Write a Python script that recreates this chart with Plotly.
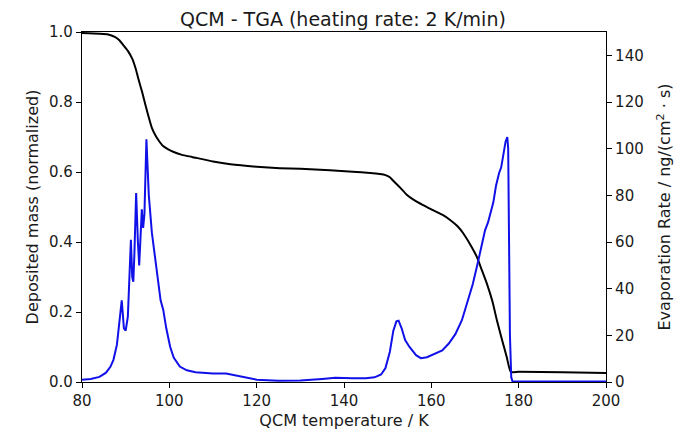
import plotly.graph_objects as go

# Evaporation rate (right axis), ng/(cm^2 s)
rate_T = [80.0, 82.0, 84.0, 85.5, 86.5, 87.2, 88.0, 88.5, 89.1, 89.6, 90.0, 90.5, 90.9, 91.2, 91.5,
          91.75, 92.0, 92.4, 92.8, 93.1, 93.4, 93.7, 94.0, 94.3, 94.75, 95.3, 96.0, 96.8, 97.5,
          98.0, 98.6, 99.3, 100.2, 101.0, 102.4, 104.0, 106.0, 110.0, 113.0, 116.0, 120.0,
          125.0, 130.0, 135.0, 138.0, 142.0, 145.0, 147.0, 148.5, 149.5, 150.5, 151.3, 152.0,
          152.5, 153.2, 154.0, 155.0, 156.5, 157.6, 159.0, 161.0, 162.5, 164.0, 165.5, 167.0,
          168.2, 169.5, 170.75, 171.5, 172.3, 173.0, 173.6, 174.2, 174.8, 175.5, 176.0, 176.5,
          177.0, 177.4, 177.6, 177.8, 178.0, 178.3, 178.6, 180.0, 200.0]
rate_val = [1.0, 1.3, 2.2, 4.0, 6.5, 9.5, 16, 24, 35, 23, 22, 28, 45, 61, 45,
            43, 55, 81, 60, 50, 62, 74, 66, 72, 104, 80, 64, 52, 40,
            35, 31, 23, 15, 10.5, 6.6, 5.0, 4.2, 3.6, 3.6, 2.5, 1.0,
            0.5, 0.6, 1.3, 1.8, 1.6, 1.6, 2.0, 3.2, 6, 13, 22, 26,
            26.3, 23, 18, 15, 11.5, 10.2, 10.6, 12.2, 13.5, 16.5, 20.5, 26.5,
            33.7, 42, 52, 58, 65, 68.5, 73, 77, 84, 89.5, 92, 98,
            103, 105, 100, 60, 20, 2, 0.2, 0.2, 0.2]

# Deposited mass (left axis), normalized
mass_T = [80.0, 84.0, 86.0, 87.5, 88.5, 89.5, 90.5, 91.5, 92.3, 93.0, 93.74, 94.5, 95.2, 96.0,
          96.8, 97.56, 98.5, 99.85, 101.0, 102.9, 105.2, 110.0, 114.0, 120.0, 125.3, 130.0,
          136.8, 142.0, 146.0, 148.2, 149.5, 150.5, 151.5, 152.8, 154.3, 155.9, 158.0, 160.4,
          162.5, 164.3, 166.0, 167.3, 168.8, 170.4, 171.5, 172.7, 174.0, 175.0, 176.2, 177.25,
          178.2, 180.0, 190.0, 200.0]
mass_val = [0.997, 0.995, 0.993, 0.986, 0.977, 0.962, 0.946, 0.924, 0.895, 0.862, 0.830, 0.793, 0.760, 0.726,
            0.705, 0.690, 0.675, 0.664, 0.657, 0.649, 0.643, 0.630, 0.622, 0.615, 0.611, 0.609,
            0.605, 0.601, 0.597, 0.594, 0.591, 0.585, 0.572, 0.556, 0.536, 0.521, 0.506, 0.491,
            0.478, 0.463, 0.445, 0.425, 0.395, 0.358, 0.322, 0.282, 0.230, 0.177, 0.120, 0.072,
            0.029, 0.029, 0.028, 0.026]

x_ticks = [80, 100, 120, 140, 160, 180, 200]
left_ticks = [0.0, 0.2, 0.4, 0.6, 0.8, 1.0]
right_ticks = [0, 20, 40, 60, 80, 100, 120, 140]

FONT = "DejaVu Sans"
TXT = "#1a1a1a"
TICK_SIZE = 15
LABEL_SIZE = 16

fig = go.Figure()
fig.add_trace(go.Scatter(x=mass_T, y=mass_val, mode="lines",
                         line=dict(color="black", width=2, shape="spline", smoothing=0.5),
                         yaxis="y", showlegend=False, hoverinfo="skip"))
fig.add_trace(go.Scatter(x=rate_T, y=rate_val, mode="lines", line=dict(color="#1010e8", width=2),
                         yaxis="y2", showlegend=False, hoverinfo="skip"))

axis_common = dict(showline=True, linecolor="black", linewidth=1.2, ticks="outside", ticklen=5,
                   tickwidth=1, tickcolor="black", showgrid=False, zeroline=False, automargin=False,
                   tickfont=dict(family=FONT, size=TICK_SIZE, color=TXT))

fig.update_layout(
    width=689, height=424,
    paper_bgcolor="white", plot_bgcolor="white",
    margin=dict(l=74, r=91, t=24, b=50),
    font=dict(family=FONT, size=TICK_SIZE, color=TXT),
    title=dict(text="QCM - TGA (heating rate: 2 K/min)", xref="paper", x=0.498, xanchor="center",
               y=0.974, yanchor="middle", font=dict(family=FONT, size=19, color=TXT)),
    xaxis=dict(range=[80, 200], tickvals=x_ticks, ticktext=[str(v) for v in x_ticks], mirror=True,
               title=dict(text="QCM temperature / K", standoff=5, font=dict(family=FONT, size=LABEL_SIZE, color=TXT)),
               **axis_common),
    yaxis=dict(range=[0, 1.0], tickvals=left_ticks, ticktext=[f"{v:.1f}" for v in left_ticks],
               title=dict(text="Deposited mass (normalized)", standoff=6, font=dict(family=FONT, size=LABEL_SIZE, color=TXT)),
               **axis_common),
    yaxis2=dict(range=[0, 150], tickvals=right_ticks, ticktext=[str(v) for v in right_ticks],
                overlaying="y", side="right",
                title=dict(text="Evaporation Rate / ng/(cm<sup>2</sup> · s)", standoff=16,
                           font=dict(family=FONT, size=LABEL_SIZE, color=TXT)),
                **axis_common),
)

fig.write_html("out.html")
